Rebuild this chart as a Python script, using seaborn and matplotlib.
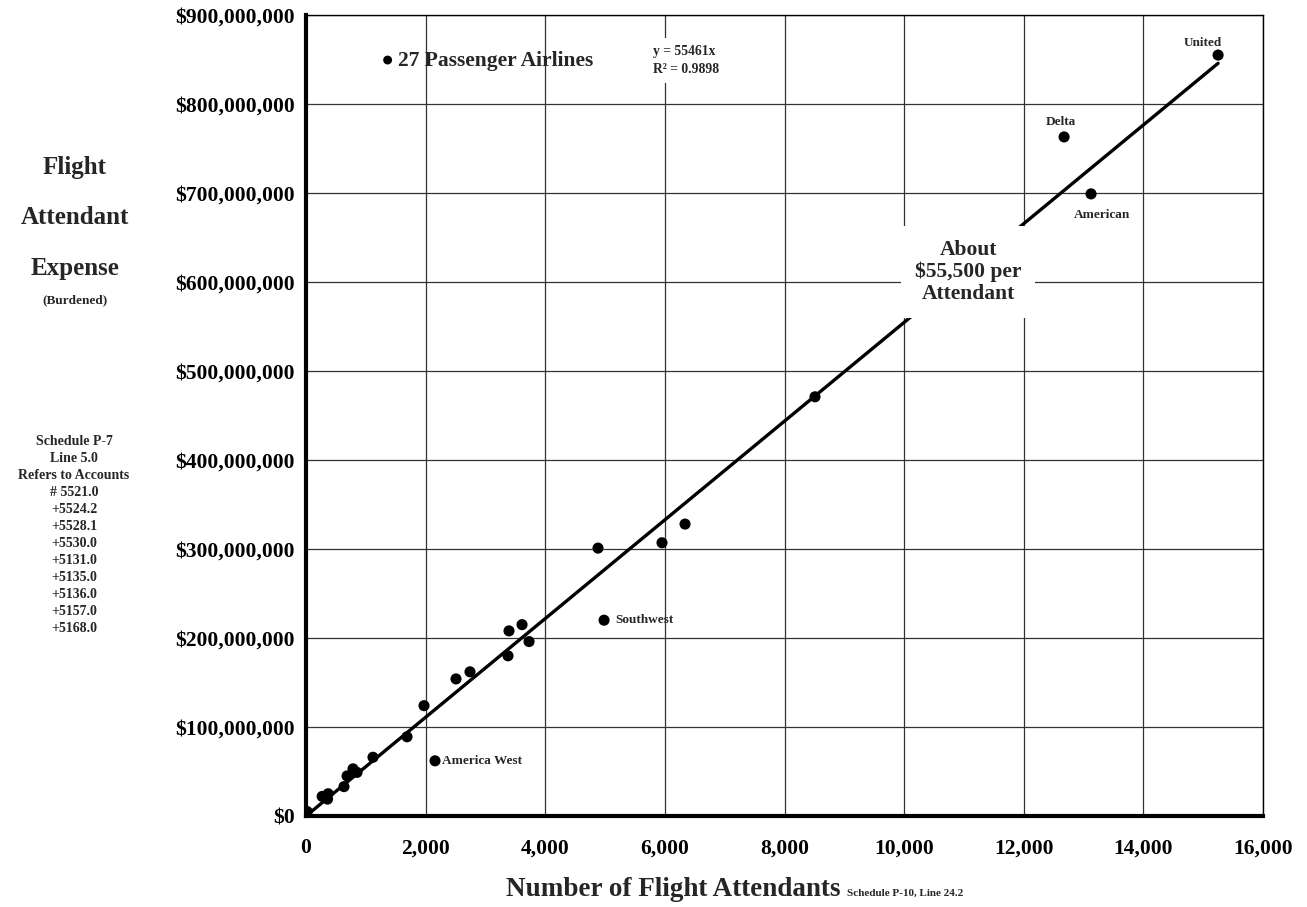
import numpy as np
import pandas as pd
import matplotlib.pyplot as plt
import seaborn as sns

plt.switch_backend('Agg')
sns.set_theme(style='white')
plt.rcParams['font.family'] = ['Liberation Serif', 'DejaVu Serif']
plt.rcParams['font.weight'] = 'bold'

# 27 passenger airlines: flight attendants vs burdened expense ($M)
attendants = [10, 20, 270, 360, 370, 635, 686, 786, 853, 1120, 1689, 1973, 2157,
              2508, 2742, 3377, 3394, 3612, 3729, 4983, 4882, 5952, 6337, 8510,
              12674, 13125, 15249]
expense_m = [2, 5, 22, 19, 25, 33, 45, 53, 49, 66, 89, 124, 62,
             154, 162, 180, 208, 215, 196, 220, 301, 307, 328, 471,
             763, 699, 855]
airline = [''] * 12 + ['America West'] + [''] * 6 + ['Southwest'] + [''] * 4 + \
          ['Delta', 'American', 'United']

SLOPE = 55461
R2 = 0.9898

x_ticks = list(range(0, 16001, 2000))
y_ticks = list(range(0, 900_000_001, 100_000_000))

left_notes = ['Schedule P-7', 'Line 5.0', 'Refers to Accounts', '# 5521.0',
              '+5524.2', '+5528.1', '+5530.0', '+5131.0', '+5135.0',
              '+5136.0', '+5157.0', '+5168.0']

df = pd.DataFrame({'attendants': attendants,
                   'expense': np.array(expense_m) * 1e6,
                   'airline': airline})

fig = plt.figure(figsize=(13.07, 9.07), dpi=100)
ax = fig.add_axes([306 / 1307, 1 - 816 / 907, (1263 - 306) / 1307, (816 - 15) / 907])

# grid
ax.set_xlim(0, 16000)
ax.set_ylim(0, 900_000_000)
ax.set_xticks(x_ticks)
ax.set_yticks(y_ticks)
ax.grid(True, color='#333333', linewidth=0.9)
ax.set_axisbelow(True)

# fit line through origin
fit_x = np.array([0, max(attendants)])
sns.lineplot(x=fit_x, y=SLOPE * fit_x, ax=ax, color='black', linewidth=2.4, zorder=2)

sns.scatterplot(data=df, x='attendants', y='expense', ax=ax, color='black', s=64,
                edgecolor='none', zorder=3, label='27 Passenger Airlines')

# airline labels: offsets in points
offsets = {'America West': (5, 0, 'left'), 'Southwest': (8, 0, 'left'),
           'Delta': (-2, 11, 'center'), 'American': (8, -15, 'center'),
           'United': (-11, 9, 'center')}
for _, r in df[df.airline != ''].iterrows():
    dx, dy, ha = offsets[r.airline]
    ax.annotate(r.airline, (r.attendants, r.expense), xytext=(dx, dy),
                textcoords='offset points', ha=ha, va='center',
                fontsize=9.5, fontweight='bold')

ax.xaxis.set_major_formatter(lambda v, p: '{:,.0f}'.format(v))
ax.yaxis.set_major_formatter(lambda v, p: '${:,.0f}'.format(v))
ax.tick_params(axis='both', direction='in', length=4, width=2.5, labelsize=15.5,
               colors='black')
ax.tick_params(axis='x', pad=16)
ax.tick_params(axis='y', pad=8)
for lab in ax.get_xticklabels() + ax.get_yticklabels():
    lab.set_fontweight('bold')

for s in ['left', 'bottom']:
    ax.spines[s].set_linewidth(3)
    ax.spines[s].set_color('black')
for s in ['top', 'right']:
    ax.spines[s].set_linewidth(1)
    ax.spines[s].set_color('black')

ax.set_xlabel('')
ax.set_ylabel('')

leg = ax.legend(loc='center left', bbox_to_anchor=(0.0763, 0.943), frameon=False,
                fontsize=15.5, handlelength=0.8, handletextpad=0.1, borderpad=0,
                borderaxespad=0, markerscale=0.8)
for t in leg.get_texts():
    t.set_fontweight('bold')

ax.text(0.3626, 0.943, 'y = 55461x\nR² = {:.4f}'.format(R2), transform=ax.transAxes,
        ha='left', va='center', fontsize=9.8, fontweight='bold', linespacing=1.55,
        bbox=dict(facecolor='white', edgecolor='none', pad=5))

ax.text(0.692, 0.679, 'About\n$55,500 per\nAttendant', transform=ax.transAxes,
        ha='center', va='center', fontsize=15.5, fontweight='bold', linespacing=1.1,
        bbox=dict(facecolor='white', edgecolor='none', pad=10), zorder=5)

# left-side titles
fig.text(75 / 1307, 1 - 218 / 907, 'Flight\nAttendant\nExpense', ha='center',
         va='center', fontsize=18, fontweight='bold', linespacing=2.55)
fig.text(75 / 1307, 1 - 300 / 907, '(Burdened)', ha='center', va='center',
         fontsize=9.5, fontweight='bold')
fig.text(74 / 1307, 1 - 535 / 907, '\n'.join(left_notes), ha='center', va='center',
         fontsize=10, fontweight='bold', linespacing=1.4)

fig.text(673 / 1307, 1 - 890 / 907, 'Number of Flight Attendants', ha='center',
         va='center', fontsize=19.5, fontweight='bold')
fig.text(847 / 1307, 1 - 893 / 907, 'Schedule P-10, Line 24.2', ha='left',
         va='center', fontsize=8, fontweight='bold')

fig.savefig('out.png', dpi=100)
